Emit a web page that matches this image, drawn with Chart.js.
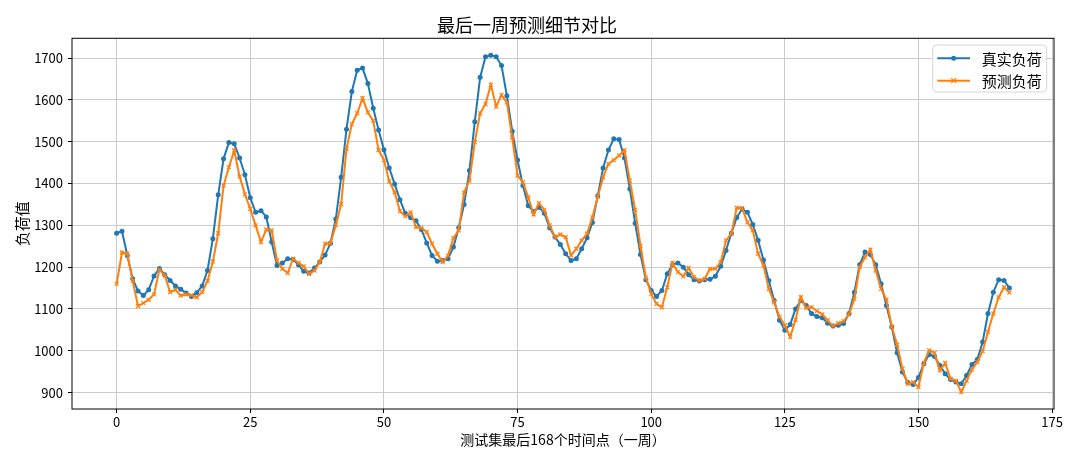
<!DOCTYPE html>
<html>
<head>
<meta charset="utf-8">
<title>最后一周预测细节对比</title>
<script src="https://cdn.jsdelivr.net/npm/chart.js@4.4.1/dist/chart.umd.min.js"></script>
<style>
    html, body { margin: 0; padding: 0; background: #fff; }
    #chart { display: block; }
</style>
</head>
<body>
<canvas id="chart" width="1080" height="463"></canvas>
<script>
// Last 168 hourly points of the test set
const timeIndex = [];
for (let i = 0; i < 168; i++) timeIndex.push(i);

const actualLoad = [
    1281, 1286, 1228, 1172, 1143, 1132, 1146, 1179, 1197, 1182,
    1168, 1155, 1147, 1138, 1130, 1139, 1155, 1192, 1268, 1373,
    1459, 1498, 1495, 1461, 1421, 1366, 1331, 1335, 1320, 1260,
    1204, 1210, 1220, 1218, 1206, 1190, 1186, 1198, 1212, 1229,
    1257, 1315, 1415, 1530, 1620, 1671, 1676, 1639, 1580, 1528,
    1481, 1437, 1399, 1361, 1329, 1318, 1311, 1290, 1258, 1228,
    1214, 1216, 1220, 1248, 1294, 1350, 1431, 1548, 1654, 1703,
    1707, 1703, 1682, 1610, 1525, 1456, 1395, 1347, 1333, 1343,
    1329, 1294, 1272, 1254, 1232, 1216, 1220, 1244, 1270, 1307,
    1371, 1437, 1480, 1507, 1505, 1461, 1387, 1305, 1230, 1170,
    1144, 1130, 1144, 1184, 1206, 1210, 1200, 1182, 1170, 1167,
    1170, 1171, 1178, 1202, 1240, 1281, 1319, 1339, 1331, 1302,
    1264, 1217, 1168, 1120, 1073, 1049, 1063, 1100, 1120, 1108,
    1089, 1082, 1079, 1066, 1059, 1061, 1065, 1089, 1140, 1206,
    1236, 1230, 1206, 1160, 1108, 1057, 995, 949, 924, 919,
    936, 969, 991, 986, 965, 945, 931, 925, 921, 941,
    967, 979, 1021, 1089, 1140, 1170, 1168, 1150
];

const predictedLoad = [
    1160, 1235, 1232, 1167, 1107, 1114, 1122, 1135, 1194, 1180,
    1140, 1146, 1132, 1135, 1133, 1128, 1140, 1167, 1213, 1281,
    1395, 1439, 1479, 1417, 1374, 1339, 1300, 1260, 1290, 1288,
    1216, 1196, 1186, 1220, 1210, 1202, 1184, 1192, 1212, 1256,
    1257, 1300, 1351, 1483, 1542, 1568, 1604, 1570, 1550, 1480,
    1456, 1405, 1379, 1334, 1322, 1331, 1296, 1294, 1284, 1256,
    1232, 1212, 1228, 1270, 1288, 1379, 1407, 1499, 1568, 1590,
    1636, 1584, 1612, 1594, 1510, 1419, 1403, 1367, 1326, 1353,
    1337, 1300, 1272, 1278, 1272, 1228, 1244, 1264, 1280, 1319,
    1368, 1415, 1447, 1456, 1467, 1480, 1407, 1337, 1251, 1175,
    1136, 1112, 1104, 1152, 1210, 1188, 1178, 1198, 1176, 1168,
    1172, 1196, 1196, 1212, 1264, 1280, 1342, 1341, 1307, 1288,
    1232, 1204, 1148, 1116, 1081, 1061, 1033, 1074, 1128, 1102,
    1104, 1095, 1087, 1073, 1059, 1066, 1071, 1087, 1124, 1200,
    1224, 1242, 1192, 1148, 1122, 1058, 1015, 957, 921, 925,
    913, 971, 1001, 995, 953, 971, 933, 928, 901, 928,
    955, 973, 999, 1045, 1089, 1128, 1152, 1139
];

const xTicks = [0, 25, 50, 75, 100, 125, 150, 175];
const yTicks = [900, 1000, 1100, 1200, 1300, 1400, 1500, 1600, 1700];

const seriesNames = ['真实负荷', '预测负荷'];
const BLUE = '#1f77b4';
const ORANGE = '#ff7f0e';
const FONT = "'Noto Sans CJK SC', 'DejaVu Sans', sans-serif";

// black box around the plot area, like matplotlib spines
const frame = {
    id: 'frame',
    afterDatasetsDraw(chart) {
        const { ctx, chartArea: a } = chart;
        ctx.save();
        ctx.strokeStyle = '#000';
        ctx.lineWidth = 1;
        ctx.strokeRect(a.left, a.top, a.right - a.left, a.bottom - a.top);
        ctx.restore();
    }
};

// matplotlib style legend in the upper right corner
const legendBox = {
    id: 'legendBox',
    afterDraw(chart) {
        const { ctx, chartArea: a } = chart;
        const w = 114, h = 47;
        const x = a.right - 7.3 - w;
        const y = a.top + 6.7;
        ctx.save();
        ctx.beginPath();
        ctx.roundRect(x, y, w, h, 4);
        ctx.fillStyle = 'rgba(255,255,255,0.8)';
        ctx.fill();
        ctx.strokeStyle = '#d6d6d6';
        ctx.lineWidth = 1;
        ctx.stroke();

        const rows = [
            { name: seriesNames[0], color: BLUE, marker: 'circle', dy: 13.3 },
            { name: seriesNames[1], color: ORANGE, marker: 'x', dy: 35.7 }
        ];
        rows.forEach(r => {
            const ly = y + r.dy;
            const x1 = x + 4.6, x2 = x + 37.3, mx = (x1 + x2) / 2;
            ctx.strokeStyle = r.color;
            ctx.lineWidth = 2;
            ctx.beginPath();
            ctx.moveTo(x1, ly);
            ctx.lineTo(x2, ly);
            ctx.stroke();
            if (r.marker === 'circle') {
                ctx.fillStyle = r.color;
                ctx.beginPath();
                ctx.arc(mx, ly, 2.5, 0, Math.PI * 2);
                ctx.fill();
            } else {
                ctx.lineWidth = 1.2;
                ctx.beginPath();
                ctx.moveTo(mx - 2.5, ly - 2.5);
                ctx.lineTo(mx + 2.5, ly + 2.5);
                ctx.moveTo(mx - 2.5, ly + 2.5);
                ctx.lineTo(mx + 2.5, ly - 2.5);
                ctx.stroke();
            }
            ctx.fillStyle = '#000';
            ctx.font = '15px ' + FONT;
            ctx.textBaseline = 'middle';
            ctx.textAlign = 'left';
            ctx.fillText(r.name, x + 49, ly + 0.5);
        });
        ctx.restore();
    }
};

const ctx = document.getElementById('chart').getContext('2d');
new Chart(ctx, {
    type: 'line',
    data: {
        labels: timeIndex,
        datasets: [
            {
                label: seriesNames[0],
                data: actualLoad,
                borderColor: BLUE,
                backgroundColor: BLUE,
                borderWidth: 2,
                pointStyle: 'circle',
                pointRadius: 2.5,
                pointBorderWidth: 0,
                tension: 0,
                order: 1
            },
            {
                label: seriesNames[1],
                data: predictedLoad,
                borderColor: ORANGE,
                backgroundColor: ORANGE,
                borderWidth: 2,
                pointStyle: 'crossRot',
                pointRadius: 2.8,
                pointBorderWidth: 1.2,
                tension: 0,
                order: 0
            }
        ]
    },
    options: {
        responsive: false,
        animation: false,
        devicePixelRatio: 1,
        layout: { padding: { left: 0, right: 26, top: 0, bottom: 0 } },
        plugins: {
            legend: { display: false },
            tooltip: { enabled: false },
            title: {
                display: true,
                text: '最后一周预测细节对比',
                color: '#000',
                font: { family: FONT, size: 18, weight: 'normal' },
                padding: { top: 14, bottom: 2.7 }
            }
        },
        scales: {
            x: {
                type: 'linear',
                min: -8.35,
                max: 175.35,
                afterFit: s => { s.height = 54; },
                afterBuildTicks: s => { s.ticks = xTicks.map(v => ({ value: v })); },
                border: { display: false },
                grid: { color: '#cbcbcb', lineWidth: 1, tickLength: 4, tickColor: '#000' },
                ticks: {
                    color: '#000',
                    padding: 1,
                    maxRotation: 0,
                    font: { family: FONT, size: 13 },
                    callback: v => String(v)
                },
                title: {
                    display: true,
                    text: '测试集最后168个时间点（一周）',
                    color: '#000',
                    font: { family: FONT, size: 14 },
                    padding: { top: 0, bottom: 14.6 }
                }
            },
            y: {
                min: 860.7,
                max: 1747.3,
                afterFit: s => { s.width = 72; },
                afterBuildTicks: s => { s.ticks = yTicks.map(v => ({ value: v })); },
                border: { display: false },
                grid: { color: '#cbcbcb', lineWidth: 1, tickLength: 4, tickColor: '#000' },
                ticks: {
                    color: '#000',
                    padding: 5,
                    font: { family: FONT, size: 13 },
                    callback: v => String(v)
                },
                title: {
                    display: true,
                    text: '负荷值',
                    color: '#000',
                    font: { family: FONT, size: 15 },
                    padding: { top: 13, bottom: 0 }
                }
            }
        }
    },
    plugins: [frame, legendBox]
});
</script>
</body>
</html>
